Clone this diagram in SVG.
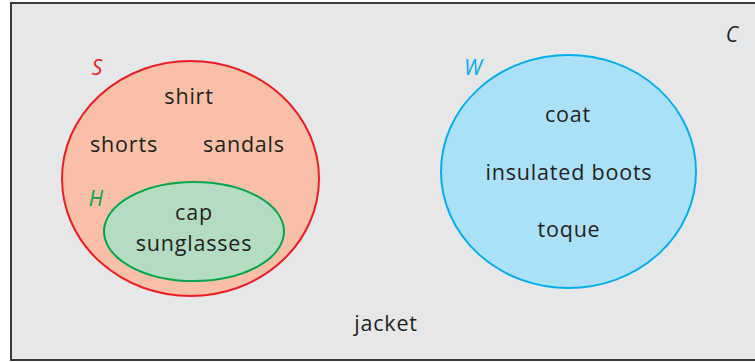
<svg xmlns="http://www.w3.org/2000/svg" width="755" height="362" viewBox="0 0 755 362">
  <style>
    .item { font-family: "Open Sans", "Lato", sans-serif; font-size: 21.5px; letter-spacing: 0.8px; fill: #231f20; text-anchor: middle; }
    .set { font-family: "Open Sans", "Lato", sans-serif; font-size: 21px; font-style: italic; text-anchor: middle; }
  </style>
  <rect width="755" height="362" fill="#ffffff"/>
  <!-- universal set C -->
  <g id="C">
    <rect x="11" y="3" width="760" height="357" fill="#e6e7e8" stroke="#3a3a3a" stroke-width="2"/>
    <text class="set" x="732" y="42" fill="#231f20">C</text>
    <text class="item" x="386" y="331">jacket</text>
  </g>
  <!-- set S -->
  <g id="S">
    <ellipse cx="190.5" cy="178.5" rx="128.5" ry="117.5" fill="#f9bfa7" stroke="#ed1c24" stroke-width="2"/>
    <text class="set" x="97" y="75" fill="#ed1c24">S</text>
    <text class="item" x="189" y="104">shirt</text>
    <text class="item" x="124" y="152">shorts</text>
    <text class="item" x="244" y="152">sandals</text>
  </g>
  <!-- subset H inside S -->
  <g id="H">
    <ellipse cx="194" cy="231.5" rx="90" ry="49.5" fill="#b3dcc0" stroke="#00a651" stroke-width="2"/>
    <text class="set" x="96" y="206" fill="#00a651">H</text>
    <text class="item" x="194" y="220">cap</text>
    <text class="item" x="194" y="251">sunglasses</text>
  </g>
  <!-- set W -->
  <g id="W">
    <ellipse cx="568.5" cy="171.5" rx="127.5" ry="116.5" fill="#abe0f9" stroke="#00aeef" stroke-width="2"/>
    <text class="set" x="473" y="75" fill="#00aeef">W</text>
    <text class="item" x="568" y="122">coat</text>
    <text class="item" x="569" y="180">insulated boots</text>
    <text class="item" x="569" y="237">toque</text>
  </g>
  <g id="connectors"/>
</svg>
